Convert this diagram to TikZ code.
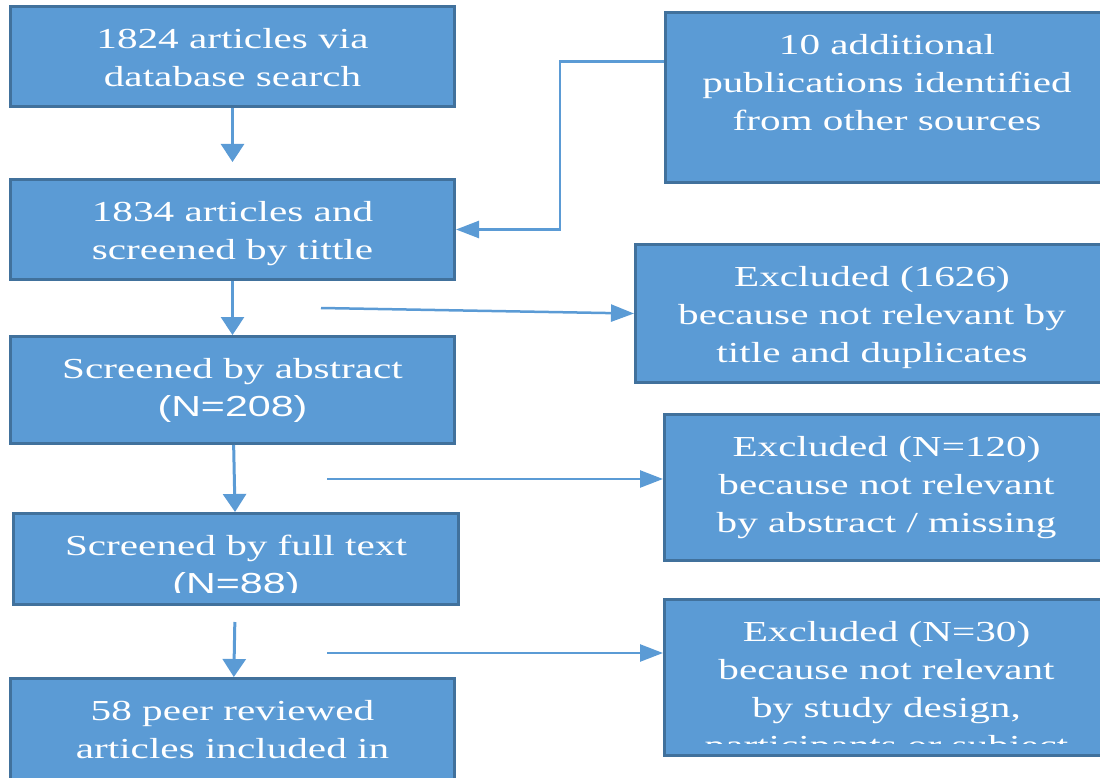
\documentclass[tikz,border=0pt]{standalone}
\usepackage{fontspec}
\usetikzlibrary{arrows.meta}
\newfontfamily\boxfont[FakeStretch=1.42]{Liberation Serif}
\newfontfamily\numfont[FakeStretch=1.42]{Liberation Sans}
\definecolor{boxfill}{HTML}{5B9BD5}
\definecolor{boxline}{HTML}{41719C}

\tikzset{
box/.style={draw=boxline, fill=boxfill, line width=3pt, inner sep=0pt,
  path picture={
    \clip ([yshift=12pt]path picture bounding box.south west) rectangle (path picture bounding box.north east);
    \node[anchor=north, text=white, align=center, inner sep=0pt, minimum width=0pt, minimum height=0pt,
      font=\boxfont\fontsize{29}{38}\selectfont]
      at ([yshift=-20pt]path picture bounding box.north) {#1};}},
varr/.style={draw=boxfill, line width=3pt, -{Triangle[length=18pt,width=23pt]}},
harr/.style={draw=boxfill, line width=2.5pt, -{Triangle[length=23pt,width=17pt]}}
}

\begin{document}
\begin{tikzpicture}[x=1pt, y=-1pt]
\useasboundingbox (0,0) rectangle (1100,778);

\node[box={1824 articles via\\database search}, minimum width=444, minimum height=100] (srch) at (232.5,56.5) {};
\node[box={1834 articles and\\screened by tittle}, minimum width=444, minimum height=100] (tit) at (232.5,229.5) {};
\node[box={Screened by abstract\\{\numfont (N=208)}}, minimum width=444, minimum height=107] (abs) at (232.5,390) {};
\node[box={Screened by full text\\{\numfont (N=88)}}, minimum width=445, minimum height=91] (full) at (236,559) {};
\node[box={58 peer reviewed\\articles included in}, minimum width=444, minimum height=140] (incl) at (232.5,748.5) {};

\node[box={10 additional\\publications identified\\from other sources}, minimum width=443, minimum height=170] (add) at (887,97.5) {};
\node[box={Excluded (1626)\\because not relevant by\\title and duplicates}, minimum width=473, minimum height=138] (excl1) at (872,313.5) {};
\node[box={Excluded (N=120)\\because not relevant\\by abstract / missing}, minimum width=444, minimum height=146] (excl2) at (886.5,487.5) {};
\node[box={Excluded (N=30)\\because not relevant\\by study design,\\participants or subject}, minimum width=444, minimum height=156] (excl3) at (886.5,677.5) {};

\draw[varr, shorten >=16pt] (srch) -- (tit);
\draw[varr] (tit) -- (abs);
\draw[varr] (abs) -- (full);
\draw[varr, shorten <=16pt] (full) -- (incl);
\draw[harr] ([yshift=36pt]add.west) -- ++(-104,0) |- (tit);

\coordinate (x1) at (321,308);
\coordinate (x2) at (327,479);
\coordinate (x3) at (327,653);
\draw[harr] (x1) -- (excl1.west);
\draw[harr] (x2) -- (x2 -| excl2.west);
\draw[harr] (x3) -- (x3 -| excl3.west);
\end{tikzpicture}
\end{document}
